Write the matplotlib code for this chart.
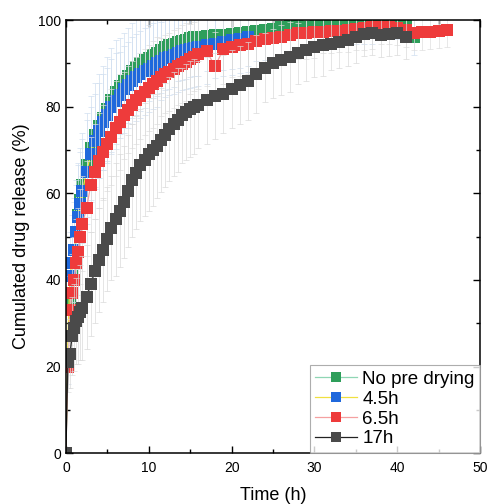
import matplotlib
matplotlib.use('Agg')
import matplotlib.pyplot as plt
from matplotlib.ticker import MultipleLocator

plt.rcParams['font.family'] = ['Liberation Sans', 'DejaVu Sans']

# sampling times (h), shared by all series
t_grid = [0, 0.25, 0.5, 0.75, 1, 1.25, 1.5, 1.75, 2,
          2.5, 3, 3.5, 4, 4.5, 5, 5.5, 6, 6.5, 7, 7.5, 8, 8.5, 9, 9.5, 10,
          10.5, 11, 11.5, 12, 12.5, 13, 13.5, 14, 14.5, 15, 15.5, 16,
          17, 18, 19, 20, 21, 22, 23, 24, 25, 26, 27, 28, 29, 30, 31,
          32, 33, 34, 35, 36, 37, 38, 39, 40, 41, 42, 43, 44, 45, 46]

labels = ['No pre drying', '4.5h', '6.5h', '17h']

rel_nopre = [0, 22, 35, 41, 47, 51, 55, 58.5, 62,
             66.5, 70.5, 73.5, 75.5, 77.5, 79.5, 81.5, 83.5, 84.8, 86, 87.2, 88.3, 89.2, 90, 90.7, 91.3,
             92, 92.5, 93.2, 93.8, 94.2, 94.6, 94.9, 95.2, 95.5, 95.8, 96, 96.1,
             96.3, 96.5, 96.6, 96.8, 97, 97.3, 97.5, 97.8, 98, 98.4, 98.6, 98.9, 99.2, 99.2, 99,
             98.8, 99, 99.3, 99.5, 99.6, 99.6, 99.6, 99.6, 99.6, 99.4, 96]
err_nopre = [0, 6, 9, 10, 11, 11, 12, 12, 12, 12,
             12, 12, 12, 12, 12, 12, 12, 11, 11, 11,
             11, 11, 11, 11, 10, 10, 10, 10, 10, 10,
             10, 9, 9, 9, 9, 9, 9, 8, 8, 8,
             8, 8, 8, 7, 7, 7, 7, 6, 6, 6,
             6, 5, 5, 5, 5, 5, 5, 5, 4, 4,
             4, 4, 4]

rel_45 = [0, 27, 41, 44, 47, 51, 54.5, 57.5, 60.5,
          65, 69, 72, 74.5, 76.5, 78, 80, 81.3, 82.7, 84, 85, 86, 86.8, 87.5, 88.2, 88.8,
          89.4, 90, 90.6, 91.2, 91.6, 92, 92.4, 92.8, 93, 93.3, 93.6, 93.8,
          94.2, 94.6, 95, 95.4, 95.7, 96]
err_45 = [0, 7, 10, 11, 12, 12, 12, 12, 12, 12,
          11, 11, 11, 11, 11, 11, 11, 10, 10, 10,
          10, 10, 10, 10, 10, 10, 10, 9, 9, 9,
          9, 9, 9, 9, 9, 9, 9, 9, 8, 8,
          8, 8, 8]

rel_65 = [0, 20, 33, 37, 40, 44, 46.5, 50, 53,
          56.5, 62, 65, 67.5, 69.5, 71.5, 73, 75, 76.5, 78, 79.3, 80.5, 81.5, 82.5, 83.4, 84.3,
          85.2, 86, 86.8, 87.5, 88.1, 88.7, 89.3, 89.8, 90.4, 91, 91.6, 92.2,
          92.8, 89.3, 93.3, 93.8, 94.2, 94.6, 95.2, 95.6, 95.8, 96.1, 96.5, 97, 97, 97.2, 97.3,
          97.5, 97.6, 97.7, 98, 98.2, 98.4, 98.4, 98.4, 98.2, 97.8, 97, 97.2, 97.3, 97.5, 97.7]
err_65 = [0, 6, 8, 9, 10, 10, 10, 11, 11, 11,
          11, 11, 11, 11, 11, 11, 11, 11, 10, 10,
          10, 10, 10, 10, 10, 10, 10, 9, 9, 9,
          9, 9, 9, 9, 8, 8, 8, 8, 8, 8,
          7, 7, 7, 7, 7, 6, 6, 6, 6, 6,
          6, 5, 5, 5, 5, 5, 5, 5, 4, 4,
          4, 4, 4, 4, 4, 4, 4]

rel_17 = [0, 21, 23, 27, 29, 30.5, 31.5, 32.5, 33.5,
          36, 39, 42, 44.5, 47, 49.5, 52, 54, 56, 58, 60.5, 63, 64.8, 66.5, 67.8, 69,
          70, 71, 72.3, 73.5, 74.8, 76, 77, 78, 78.8, 79.5, 80, 80.5,
          81.5, 82.5, 83, 84, 85, 86, 87.5, 89, 90, 90.8, 91.5, 92.3, 93, 93.8, 94.2,
          94.6, 95, 95.4, 96, 96.8, 97, 96.5, 96.8, 97, 96]
err_17 = [0, 6, 8, 9, 10, 10, 11, 11, 12, 12,
          12, 12, 12, 12, 12, 12, 13, 13, 13, 13,
          13, 13, 13, 13, 13, 13, 12, 12, 12, 12,
          12, 12, 11, 11, 11, 11, 10, 10, 10, 9,
          9, 9, 9, 9, 8, 8, 8, 8, 7, 7,
          7, 7, 6, 6, 6, 6, 5, 5, 5, 5,
          5, 5]

series = [rel_nopre, rel_45, rel_65, rel_17]
errors = [err_nopre, err_45, err_65, err_17]
marker_colors = ['#2e9e5a', '#1f68dc', '#ee3b3b', '#4a4a4a']
line_colors = ['#8fd6b4', '#f0e040', '#f5a0a0', '#222222']
bar_colors = ['#d0dff0', '#d0dff0', '#dedede', '#dadada']

fig = plt.figure(figsize=(4.88, 5.04), dpi=100)
ax = fig.add_axes([0.135, 0.101, 0.849, 0.859])

for vals, err, mc, lc, bc, lab in zip(series, errors, marker_colors, line_colors, bar_colors, labels):
    tt = t_grid[:len(vals)]
    ax.errorbar(tt, vals, yerr=err, fmt='none', ecolor=bc, elinewidth=0.5,
                capsize=2.5, capthick=0.5)
    ax.plot(tt, vals, '-', color=lc, linewidth=0.9, marker='s', markersize=8.2,
            markerfacecolor=mc, markeredgewidth=0, label=lab)

ax.set_xlim(0, 50)
ax.set_ylim(0, 100)
ax.xaxis.set_major_locator(MultipleLocator(10))
ax.xaxis.set_minor_locator(MultipleLocator(5))
ax.yaxis.set_major_locator(MultipleLocator(20))
ax.yaxis.set_minor_locator(MultipleLocator(10))
ax.tick_params(which='both', direction='in', top=True, right=True, labelsize=10)
ax.tick_params(which='major', length=5, width=1)
ax.tick_params(which='minor', length=3, width=1)
ax.tick_params(axis='x', pad=6)
for s in ax.spines.values():
    s.set_linewidth(1.1)

ax.set_xlabel('Time (h)', fontsize=13, labelpad=8)
ax.set_ylabel('Cumulated drug release (%)', fontsize=13, labelpad=6)

leg = ax.legend(loc='lower right', fontsize=13.5, frameon=True, fancybox=False,
                borderaxespad=0, handlelength=2.2, handletextpad=0.3,
                labelspacing=0.15, borderpad=0.3, markerscale=0.85)
leg.get_frame().set_edgecolor('#999999')
leg.get_frame().set_linewidth(0.8)

plt.savefig('out.png', dpi=100)
